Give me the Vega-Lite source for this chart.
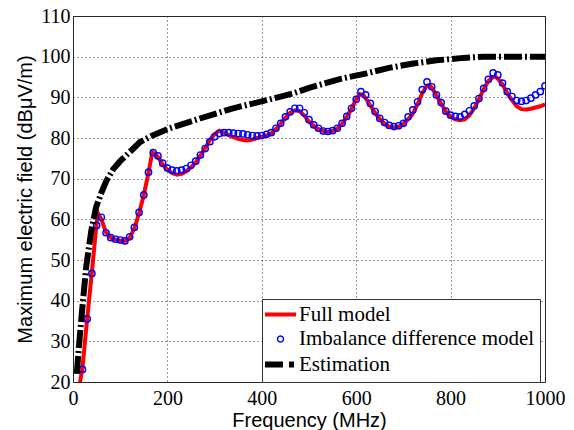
{
  "$schema": "https://vega.github.io/schema/vega-lite/v6.json",
  "width": 472,
  "height": 366,
  "autosize": {"type": "none"},
  "padding": {"left": 73, "top": 16, "right": 29, "bottom": 48},
  "background": "white",
  "config": {
    "view": {"stroke": "#222", "strokeWidth": 1},
    "axis": {
      "grid": true,
      "gridDash": [1, 3],
      "gridColor": "#333",
      "gridOpacity": 1,
      "tickSize": 0,
      "domain": false,
      "labelFont": "'Liberation Serif', 'Times New Roman', Times, serif",
      "labelFontSize": 20,
      "labelColor": "#000",
      "labelFlush": false,
      "labelOverlap": false,
      "titleFont": "'Liberation Sans', Arial, Helvetica, sans-serif",
      "titleFontSize": 20,
      "titleFontWeight": "normal",
      "titleColor": "#000"
    }
  },
  "datasets": {
    "full": [
      {"f": 15, "v": 20, "series": "Full model"},
      {"f": 20, "v": 23.5, "series": "Full model"},
      {"f": 30, "v": 35.5, "series": "Full model"},
      {"f": 40, "v": 47, "series": "Full model"},
      {"f": 50, "v": 59, "series": "Full model"},
      {"f": 53, "v": 61.5, "series": "Full model"},
      {"f": 60, "v": 60, "series": "Full model"},
      {"f": 70, "v": 56.8, "series": "Full model"},
      {"f": 80, "v": 55.5, "series": "Full model"},
      {"f": 90, "v": 55, "series": "Full model"},
      {"f": 100, "v": 54.8, "series": "Full model"},
      {"f": 110, "v": 54.7, "series": "Full model"},
      {"f": 120, "v": 55.5, "series": "Full model"},
      {"f": 130, "v": 57.8, "series": "Full model"},
      {"f": 140, "v": 61.5, "series": "Full model"},
      {"f": 150, "v": 66, "series": "Full model"},
      {"f": 160, "v": 71.5, "series": "Full model"},
      {"f": 168, "v": 76.5, "series": "Full model"},
      {"f": 175, "v": 76, "series": "Full model"},
      {"f": 180, "v": 75.3, "series": "Full model"},
      {"f": 190, "v": 73.5, "series": "Full model"},
      {"f": 200, "v": 72.2, "series": "Full model"},
      {"f": 210, "v": 71.4, "series": "Full model"},
      {"f": 220, "v": 71, "series": "Full model"},
      {"f": 230, "v": 71.2, "series": "Full model"},
      {"f": 240, "v": 71.8, "series": "Full model"},
      {"f": 250, "v": 72.8, "series": "Full model"},
      {"f": 260, "v": 74, "series": "Full model"},
      {"f": 270, "v": 75.7, "series": "Full model"},
      {"f": 280, "v": 77.5, "series": "Full model"},
      {"f": 290, "v": 79.5, "series": "Full model"},
      {"f": 300, "v": 81, "series": "Full model"},
      {"f": 310, "v": 81.8, "series": "Full model"},
      {"f": 320, "v": 81.3, "series": "Full model"},
      {"f": 330, "v": 80.7, "series": "Full model"},
      {"f": 340, "v": 80.2, "series": "Full model"},
      {"f": 350, "v": 79.8, "series": "Full model"},
      {"f": 360, "v": 79.5, "series": "Full model"},
      {"f": 370, "v": 79.4, "series": "Full model"},
      {"f": 380, "v": 79.6, "series": "Full model"},
      {"f": 390, "v": 80, "series": "Full model"},
      {"f": 400, "v": 80.3, "series": "Full model"},
      {"f": 410, "v": 80.6, "series": "Full model"},
      {"f": 420, "v": 81.1, "series": "Full model"},
      {"f": 430, "v": 82.2, "series": "Full model"},
      {"f": 440, "v": 83.5, "series": "Full model"},
      {"f": 450, "v": 85, "series": "Full model"},
      {"f": 460, "v": 86.2, "series": "Full model"},
      {"f": 470, "v": 86.8, "series": "Full model"},
      {"f": 480, "v": 86.6, "series": "Full model"},
      {"f": 490, "v": 85.5, "series": "Full model"},
      {"f": 500, "v": 84, "series": "Full model"},
      {"f": 510, "v": 83, "series": "Full model"},
      {"f": 520, "v": 82.2, "series": "Full model"},
      {"f": 530, "v": 81.7, "series": "Full model"},
      {"f": 540, "v": 81.5, "series": "Full model"},
      {"f": 550, "v": 81.7, "series": "Full model"},
      {"f": 560, "v": 82.3, "series": "Full model"},
      {"f": 570, "v": 83.5, "series": "Full model"},
      {"f": 580, "v": 85.2, "series": "Full model"},
      {"f": 590, "v": 87.2, "series": "Full model"},
      {"f": 600, "v": 89.5, "series": "Full model"},
      {"f": 608, "v": 90.8, "series": "Full model"},
      {"f": 615, "v": 90.5, "series": "Full model"},
      {"f": 620, "v": 89.8, "series": "Full model"},
      {"f": 630, "v": 88, "series": "Full model"},
      {"f": 640, "v": 86.2, "series": "Full model"},
      {"f": 650, "v": 84.6, "series": "Full model"},
      {"f": 660, "v": 83.5, "series": "Full model"},
      {"f": 670, "v": 82.8, "series": "Full model"},
      {"f": 680, "v": 82.6, "series": "Full model"},
      {"f": 690, "v": 82.8, "series": "Full model"},
      {"f": 700, "v": 83.5, "series": "Full model"},
      {"f": 710, "v": 84.6, "series": "Full model"},
      {"f": 720, "v": 86, "series": "Full model"},
      {"f": 730, "v": 88.3, "series": "Full model"},
      {"f": 740, "v": 91, "series": "Full model"},
      {"f": 750, "v": 92.9, "series": "Full model"},
      {"f": 755, "v": 93, "series": "Full model"},
      {"f": 760, "v": 92.4, "series": "Full model"},
      {"f": 770, "v": 90.5, "series": "Full model"},
      {"f": 780, "v": 88.4, "series": "Full model"},
      {"f": 790, "v": 86.5, "series": "Full model"},
      {"f": 800, "v": 85.2, "series": "Full model"},
      {"f": 810, "v": 84.6, "series": "Full model"},
      {"f": 820, "v": 84.4, "series": "Full model"},
      {"f": 830, "v": 84.6, "series": "Full model"},
      {"f": 840, "v": 85.6, "series": "Full model"},
      {"f": 850, "v": 87.3, "series": "Full model"},
      {"f": 860, "v": 89.5, "series": "Full model"},
      {"f": 870, "v": 92, "series": "Full model"},
      {"f": 880, "v": 94, "series": "Full model"},
      {"f": 890, "v": 95, "series": "Full model"},
      {"f": 895, "v": 95.1, "series": "Full model"},
      {"f": 900, "v": 94.6, "series": "Full model"},
      {"f": 910, "v": 93.2, "series": "Full model"},
      {"f": 920, "v": 91, "series": "Full model"},
      {"f": 930, "v": 89.3, "series": "Full model"},
      {"f": 940, "v": 87.8, "series": "Full model"},
      {"f": 950, "v": 87.1, "series": "Full model"},
      {"f": 960, "v": 87, "series": "Full model"},
      {"f": 970, "v": 87.2, "series": "Full model"},
      {"f": 980, "v": 87.5, "series": "Full model"},
      {"f": 990, "v": 87.8, "series": "Full model"},
      {"f": 1000, "v": 88.3, "series": "Full model"}
    ],
    "imb": [
      {"f": 20, "v": 23.1, "series": "Imbalance difference model"},
      {"f": 30, "v": 35.5, "series": "Imbalance difference model"},
      {"f": 40, "v": 46.7, "series": "Imbalance difference model"},
      {"f": 50, "v": 58.5, "series": "Imbalance difference model"},
      {"f": 60, "v": 60.5, "series": "Imbalance difference model"},
      {"f": 70, "v": 56.7, "series": "Imbalance difference model"},
      {"f": 80, "v": 55.5, "series": "Imbalance difference model"},
      {"f": 90, "v": 55.1, "series": "Imbalance difference model"},
      {"f": 100, "v": 54.9, "series": "Imbalance difference model"},
      {"f": 110, "v": 54.7, "series": "Imbalance difference model"},
      {"f": 120, "v": 55.7, "series": "Imbalance difference model"},
      {"f": 130, "v": 58, "series": "Imbalance difference model"},
      {"f": 140, "v": 61.7, "series": "Imbalance difference model"},
      {"f": 150, "v": 66, "series": "Imbalance difference model"},
      {"f": 160, "v": 71.6, "series": "Imbalance difference model"},
      {"f": 170, "v": 76.4, "series": "Imbalance difference model"},
      {"f": 180, "v": 75.6, "series": "Imbalance difference model"},
      {"f": 190, "v": 73.8, "series": "Imbalance difference model"},
      {"f": 200, "v": 72.6, "series": "Imbalance difference model"},
      {"f": 210, "v": 72.1, "series": "Imbalance difference model"},
      {"f": 220, "v": 71.9, "series": "Imbalance difference model"},
      {"f": 230, "v": 72.1, "series": "Imbalance difference model"},
      {"f": 240, "v": 72.5, "series": "Imbalance difference model"},
      {"f": 250, "v": 73.3, "series": "Imbalance difference model"},
      {"f": 260, "v": 74.3, "series": "Imbalance difference model"},
      {"f": 270, "v": 75.8, "series": "Imbalance difference model"},
      {"f": 280, "v": 77.4, "series": "Imbalance difference model"},
      {"f": 290, "v": 79.1, "series": "Imbalance difference model"},
      {"f": 300, "v": 80.3, "series": "Imbalance difference model"},
      {"f": 310, "v": 81.1, "series": "Imbalance difference model"},
      {"f": 320, "v": 81.3, "series": "Imbalance difference model"},
      {"f": 330, "v": 81.3, "series": "Imbalance difference model"},
      {"f": 340, "v": 81.2, "series": "Imbalance difference model"},
      {"f": 350, "v": 81.1, "series": "Imbalance difference model"},
      {"f": 360, "v": 81, "series": "Imbalance difference model"},
      {"f": 370, "v": 80.8, "series": "Imbalance difference model"},
      {"f": 380, "v": 80.6, "series": "Imbalance difference model"},
      {"f": 390, "v": 80.5, "series": "Imbalance difference model"},
      {"f": 400, "v": 80.6, "series": "Imbalance difference model"},
      {"f": 410, "v": 80.9, "series": "Imbalance difference model"},
      {"f": 420, "v": 81.3, "series": "Imbalance difference model"},
      {"f": 430, "v": 82.4, "series": "Imbalance difference model"},
      {"f": 440, "v": 83.6, "series": "Imbalance difference model"},
      {"f": 450, "v": 85.2, "series": "Imbalance difference model"},
      {"f": 460, "v": 86.4, "series": "Imbalance difference model"},
      {"f": 470, "v": 87.3, "series": "Imbalance difference model"},
      {"f": 480, "v": 87.3, "series": "Imbalance difference model"},
      {"f": 490, "v": 86.2, "series": "Imbalance difference model"},
      {"f": 500, "v": 84.5, "series": "Imbalance difference model"},
      {"f": 510, "v": 83.2, "series": "Imbalance difference model"},
      {"f": 520, "v": 82.4, "series": "Imbalance difference model"},
      {"f": 530, "v": 81.7, "series": "Imbalance difference model"},
      {"f": 540, "v": 81.6, "series": "Imbalance difference model"},
      {"f": 550, "v": 81.8, "series": "Imbalance difference model"},
      {"f": 560, "v": 82.4, "series": "Imbalance difference model"},
      {"f": 570, "v": 83.6, "series": "Imbalance difference model"},
      {"f": 580, "v": 85.3, "series": "Imbalance difference model"},
      {"f": 590, "v": 87.3, "series": "Imbalance difference model"},
      {"f": 600, "v": 89.5, "series": "Imbalance difference model"},
      {"f": 610, "v": 91.4, "series": "Imbalance difference model"},
      {"f": 620, "v": 90.6, "series": "Imbalance difference model"},
      {"f": 630, "v": 88.5, "series": "Imbalance difference model"},
      {"f": 640, "v": 86.5, "series": "Imbalance difference model"},
      {"f": 650, "v": 84.8, "series": "Imbalance difference model"},
      {"f": 660, "v": 83.8, "series": "Imbalance difference model"},
      {"f": 670, "v": 83.1, "series": "Imbalance difference model"},
      {"f": 680, "v": 82.8, "series": "Imbalance difference model"},
      {"f": 690, "v": 83, "series": "Imbalance difference model"},
      {"f": 700, "v": 83.6, "series": "Imbalance difference model"},
      {"f": 710, "v": 85.2, "series": "Imbalance difference model"},
      {"f": 720, "v": 86.9, "series": "Imbalance difference model"},
      {"f": 730, "v": 88.9, "series": "Imbalance difference model"},
      {"f": 740, "v": 91.9, "series": "Imbalance difference model"},
      {"f": 750, "v": 93.8, "series": "Imbalance difference model"},
      {"f": 760, "v": 92.6, "series": "Imbalance difference model"},
      {"f": 770, "v": 90.6, "series": "Imbalance difference model"},
      {"f": 780, "v": 88.7, "series": "Imbalance difference model"},
      {"f": 790, "v": 86.6, "series": "Imbalance difference model"},
      {"f": 800, "v": 85.6, "series": "Imbalance difference model"},
      {"f": 810, "v": 85.3, "series": "Imbalance difference model"},
      {"f": 820, "v": 85.2, "series": "Imbalance difference model"},
      {"f": 830, "v": 85.8, "series": "Imbalance difference model"},
      {"f": 840, "v": 86.7, "series": "Imbalance difference model"},
      {"f": 850, "v": 87.9, "series": "Imbalance difference model"},
      {"f": 860, "v": 89.7, "series": "Imbalance difference model"},
      {"f": 870, "v": 92.2, "series": "Imbalance difference model"},
      {"f": 880, "v": 94.4, "series": "Imbalance difference model"},
      {"f": 890, "v": 96, "series": "Imbalance difference model"},
      {"f": 900, "v": 95.5, "series": "Imbalance difference model"},
      {"f": 910, "v": 93.5, "series": "Imbalance difference model"},
      {"f": 920, "v": 91.4, "series": "Imbalance difference model"},
      {"f": 930, "v": 90.2, "series": "Imbalance difference model"},
      {"f": 940, "v": 89.2, "series": "Imbalance difference model"},
      {"f": 950, "v": 89, "series": "Imbalance difference model"},
      {"f": 960, "v": 89.2, "series": "Imbalance difference model"},
      {"f": 970, "v": 89.8, "series": "Imbalance difference model"},
      {"f": 980, "v": 90.6, "series": "Imbalance difference model"},
      {"f": 990, "v": 91.4, "series": "Imbalance difference model"},
      {"f": 1000, "v": 92.8, "series": "Imbalance difference model"}
    ],
    "est": [
      {"f": 8, "v": 22, "series": "Estimation"},
      {"f": 12, "v": 28, "series": "Estimation"},
      {"f": 18, "v": 36, "series": "Estimation"},
      {"f": 28, "v": 48.4, "series": "Estimation"},
      {"f": 39, "v": 57.4, "series": "Estimation"},
      {"f": 49, "v": 63, "series": "Estimation"},
      {"f": 60, "v": 66.5, "series": "Estimation"},
      {"f": 70, "v": 69.3, "series": "Estimation"},
      {"f": 85, "v": 72.3, "series": "Estimation"},
      {"f": 100, "v": 74.3, "series": "Estimation"},
      {"f": 142, "v": 79, "series": "Estimation"},
      {"f": 170, "v": 80.7, "series": "Estimation"},
      {"f": 205, "v": 82.4, "series": "Estimation"},
      {"f": 269, "v": 84.8, "series": "Estimation"},
      {"f": 339, "v": 87.3, "series": "Estimation"},
      {"f": 410, "v": 89.3, "series": "Estimation"},
      {"f": 467, "v": 91, "series": "Estimation"},
      {"f": 502, "v": 92.4, "series": "Estimation"},
      {"f": 569, "v": 94.6, "series": "Estimation"},
      {"f": 622, "v": 95.9, "series": "Estimation"},
      {"f": 672, "v": 97.3, "series": "Estimation"},
      {"f": 721, "v": 98.3, "series": "Estimation"},
      {"f": 770, "v": 99.1, "series": "Estimation"},
      {"f": 827, "v": 99.7, "series": "Estimation"},
      {"f": 870, "v": 100, "series": "Estimation"},
      {"f": 1000, "v": 100, "series": "Estimation"}
    ]
  },
  "encoding": {
    "x": {
      "field": "f",
      "type": "quantitative",
      "scale": {"domain": [0, 1000], "nice": false},
      "axis": {
        "values": [0, 200, 400, 600, 800, 1000],
        "format": "d",
        "title": "Frequency (MHz)",
        "labelPadding": 6,
        "titlePadding": 2
      }
    },
    "y": {
      "field": "v",
      "type": "quantitative",
      "scale": {"domain": [20, 110], "nice": false, "zero": false},
      "axis": {
        "values": [20, 30, 40, 50, 60, 70, 80, 90, 100, 110],
        "format": "d",
        "title": "Maximum electric field (dBμV/m)",
        "labelPadding": 3,
        "titlePadding": 5
      }
    },
    "color": {
      "field": "series",
      "type": "nominal",
      "scale": {
        "domain": ["Full model", "Imbalance difference model", "Estimation"],
        "range": ["#ff0000", "#0000ff", "#000000"]
      },
      "legend": {
        "orient": "none",
        "legendX": 189,
        "legendY": 283,
        "title": null,
        "padding": 5,
        "symbolOffset": 3,
        "labelOffset": 8,
        "labelFont": "'Liberation Serif', 'Times New Roman', Times, serif",
        "labelFontSize": 21,
        "labelColor": "#000",
        "labelLimit": 400,
        "rowPadding": 2.5,
        "symbolSize": 625,
        "strokeColor": "#333",
        "fillColor": "#ffffff",
        "encode": {
          "symbols": {
            "update": {
              "shape": {"signal": "datum.value === 'Imbalance difference model' ? 'M0.24,0A0.24,0.24 0 1,1 -0.24,0A0.24,0.24 0 1,1 0.24,0Z' : 'M-1.24,0H1.24'"},
              "size": {"value": 625},
              "strokeWidth": {"signal": "datum.value === 'Full model' ? 4 : datum.value === 'Estimation' ? 6 : 1.4"},
              "strokeDash": {"signal": "datum.value === 'Estimation' ? [18, 6, 5, 20] : [1, 0]"},
              "stroke": {"signal": "datum.value === 'Full model' ? '#ff0000' : datum.value === 'Estimation' ? '#000000' : '#0000ff'"},
              "fill": {"value": "transparent"},
              "opacity": {"value": 1}
            }
          }
        }
      }
    }
  },
  "layer": [
    {"data": {"name": "full"}, "mark": {"type": "line", "strokeWidth": 4, "clip": true}},
    {"data": {"name": "imb"}, "mark": {"type": "point", "filled": false, "size": 40, "strokeWidth": 1.4, "opacity": 1, "clip": true}},
    {"data": {"name": "est"}, "mark": {"type": "line", "strokeWidth": 6, "strokeDash": [18, 3, 2, 3], "clip": true}}
  ]
}
